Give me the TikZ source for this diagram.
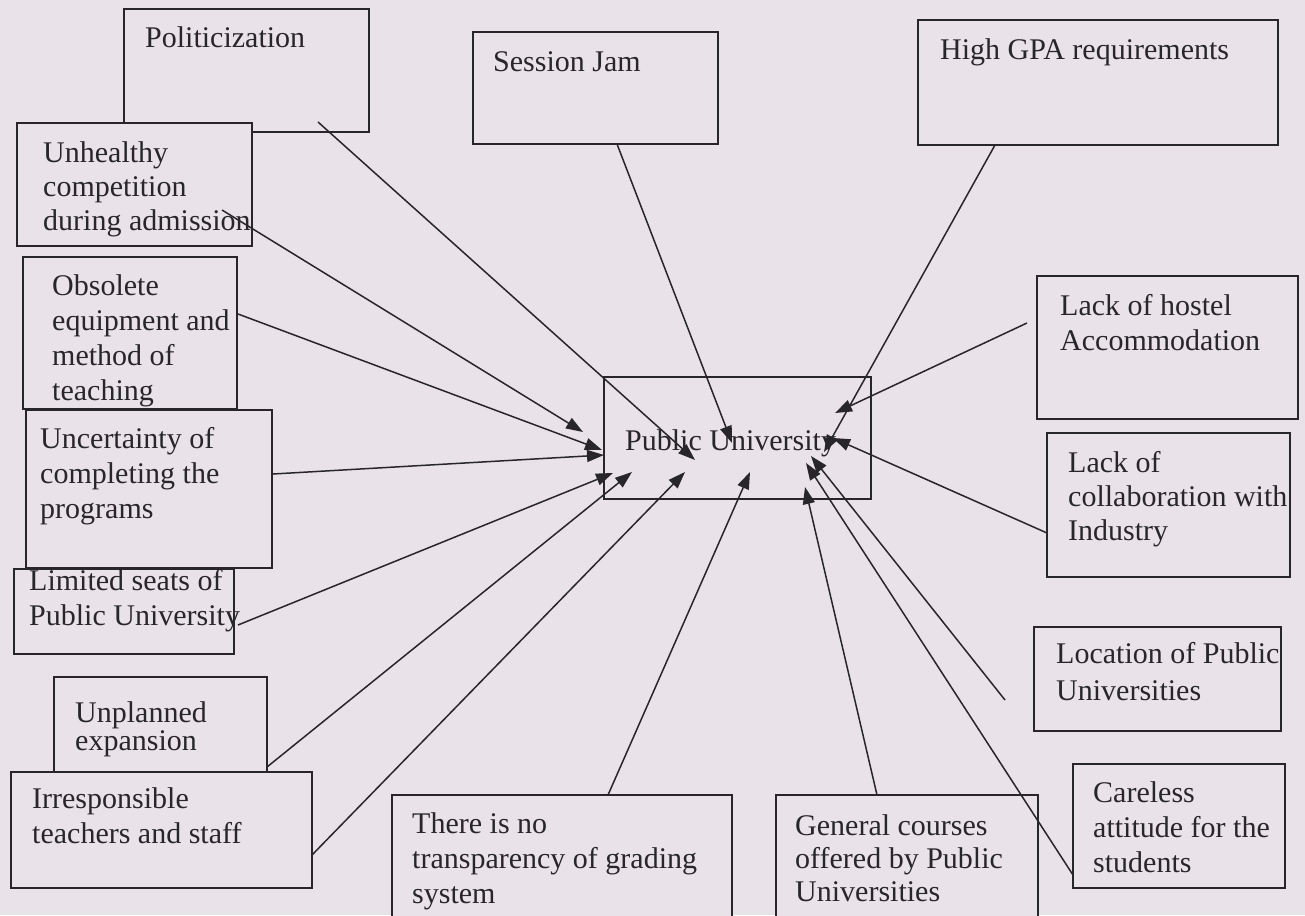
\documentclass[tikz,border=0pt]{standalone}
\usepackage{fontspec}
\setmainfont{Liberation Serif}
\usetikzlibrary{arrows.meta,fit}
\definecolor{paper}{RGB}{233,227,233}
\definecolor{ink}{RGB}{40,38,42}
% left-aligned block of lines whose baseline is that of its first line
\newcommand\lines[1]{\begin{tabular}[t]{@{}l@{}}#1\end{tabular}}
\begin{document}
\begin{tikzpicture}[x=1pt,y=-1pt,
  box/.style={draw=ink, line width=1.8pt, fill=paper, inner sep=0pt},
  txt/.style={anchor=base west, inner sep=0pt, text=ink,
    font=\fontsize{30}{35}\selectfont},
  link/.style={draw=ink, line width=1.5pt,
    -{Triangle[length=17pt,width=12pt]}}
]
\useasboundingbox (0,0) rectangle (1305,915);
\fill[paper] (0,0) rectangle (1305,915);
\clip (0,0) rectangle (1305,915);

% cause boxes (later ones lie over earlier ones)
\node[box, fit={(124,9) (369,132)}] (pol) {};
\node[box, fit={(17,123) (252,246)}] (unh) {};
\node[box, fit={(23,257) (237,409)}] (obs) {};
\node[box, fit={(14,569) (234,654)}] (lim) {};
\node[box, fit={(26,410) (272,568)}] (unc) {};
\node[box, fit={(54,677) (267,772)}] (unp) {};
\node[box, fit={(11,772) (312,888)}] (irr) {};
\node[box, fit={(473,32) (718,144)}] (ses) {};
\node[box, fit={(918,20) (1278,145)}] (gpa) {};
\node[box, fit={(1037,276) (1298,419)}] (hos) {};
\node[box, fit={(1047,433) (1290,577)}] (col) {};
\node[box, fit={(1034,627) (1281,731)}] (loc) {};
\node[box, fit={(1073,764) (1285,888)}] (car) {};
\node[box, fit={(392,795) (732,940)}] (gra) {};
\node[box, fit={(776,795) (1038,940)}] (gen) {};
\node[box, fit={(604,377) (871,499)}] (pub) {};

% box texts
\node[txt] (pol-t) at (145,48) {Politicization};
\node[txt] (ses-t) at (493,72) {Session Jam};
\node[txt] (gpa-t) at (940,60) {High GPA requirements};
\node[txt] (unh-t) at (43,162) {\lines{Unhealthy\\[-1pt] competition\\[-1pt] during admission}};
\node[txt] (obs-t) at (52,295) {\lines{Obsolete\\ equipment and\\ method of\\ teaching}};
\node[txt] (unc-t) at (40,448) {\lines{Uncertainty of\\ completing the\\ programs}};
\node[txt] (lim-t) at (29,590) {\lines{Limited seats of\\ Public University}};
\node[txt] (unp-t) at (75,722) {\lines{Unplanned\\[-7pt] expansion}};
\node[txt] (irr-t) at (32,808) {\lines{Irresponsible\\ teachers and staff}};
\node[txt] (gra-t) at (412,833) {\lines{There is no\\ transparency of grading\\ system}};
\node[txt] (gen-t) at (795,835) {\lines{General courses\\[-2pt] offered by Public\\[-2pt] Universities}};
\node[txt] (car-t) at (1093,802) {\lines{Careless\\ attitude for the\\ students}};
\node[txt] (loc-t) at (1056,663) {\lines{Location of Public\\[2pt] Universities}};
\node[txt] (col-t) at (1068,472) {\lines{Lack of\\[-1pt] collaboration with\\[-1pt] Industry}};
\node[txt] (hos-t) at (1060,315) {\lines{Lack of hostel\\ Accommodation}};
\node[txt] (pub-t) at (625,450) {Public University};

% where each connector leaves its cause box
\coordinate (pol-s) at (318,122);
\coordinate (unh-s) at (222,210);
\coordinate (obs-s) at (238,314);
\coordinate (unc-s) at (273,474);
\coordinate (lim-s) at (238,625);
\coordinate (unp-s) at (267,767);
\coordinate (irr-s) at (312,855);
\coordinate (gra-s) at (608,795);
\coordinate (gen-s) at (877,795);
\coordinate (car-s) at (1073,875);
\coordinate (loc-s) at (1005,700);
\coordinate (col-s) at (1047,533);
\coordinate (hos-s) at (1027,323);
\coordinate (gpa-s) at (995,145);
\coordinate (ses-s) at (617,144);

% where each connector ends, in and around the central box
\coordinate (pol-e) at (695,460);
\coordinate (unh-e) at (583,432);
\coordinate (obs-e) at (602,450);
\coordinate (unc-e) at (604,455);
\coordinate (lim-e) at (613,473);
\coordinate (unp-e) at (632,472);
\coordinate (irr-e) at (685,472);
\coordinate (gra-e) at (750,472);
\coordinate (gen-e) at (805,487);
\coordinate (car-e) at (806,463);
\coordinate (loc-e) at (811,456);
\coordinate (col-e) at (833,438);
\coordinate (hos-e) at (835,413);
\coordinate (gpa-e) at (824,452);
\coordinate (ses-e) at (732,443);

\foreach \k in {pol,unh,obs,unc,lim,unp,irr,gra,gen,car,loc,col,hos,gpa,ses}
  \draw[link] (\k-s) -- (\k-e);
\end{tikzpicture}
\end{document}
